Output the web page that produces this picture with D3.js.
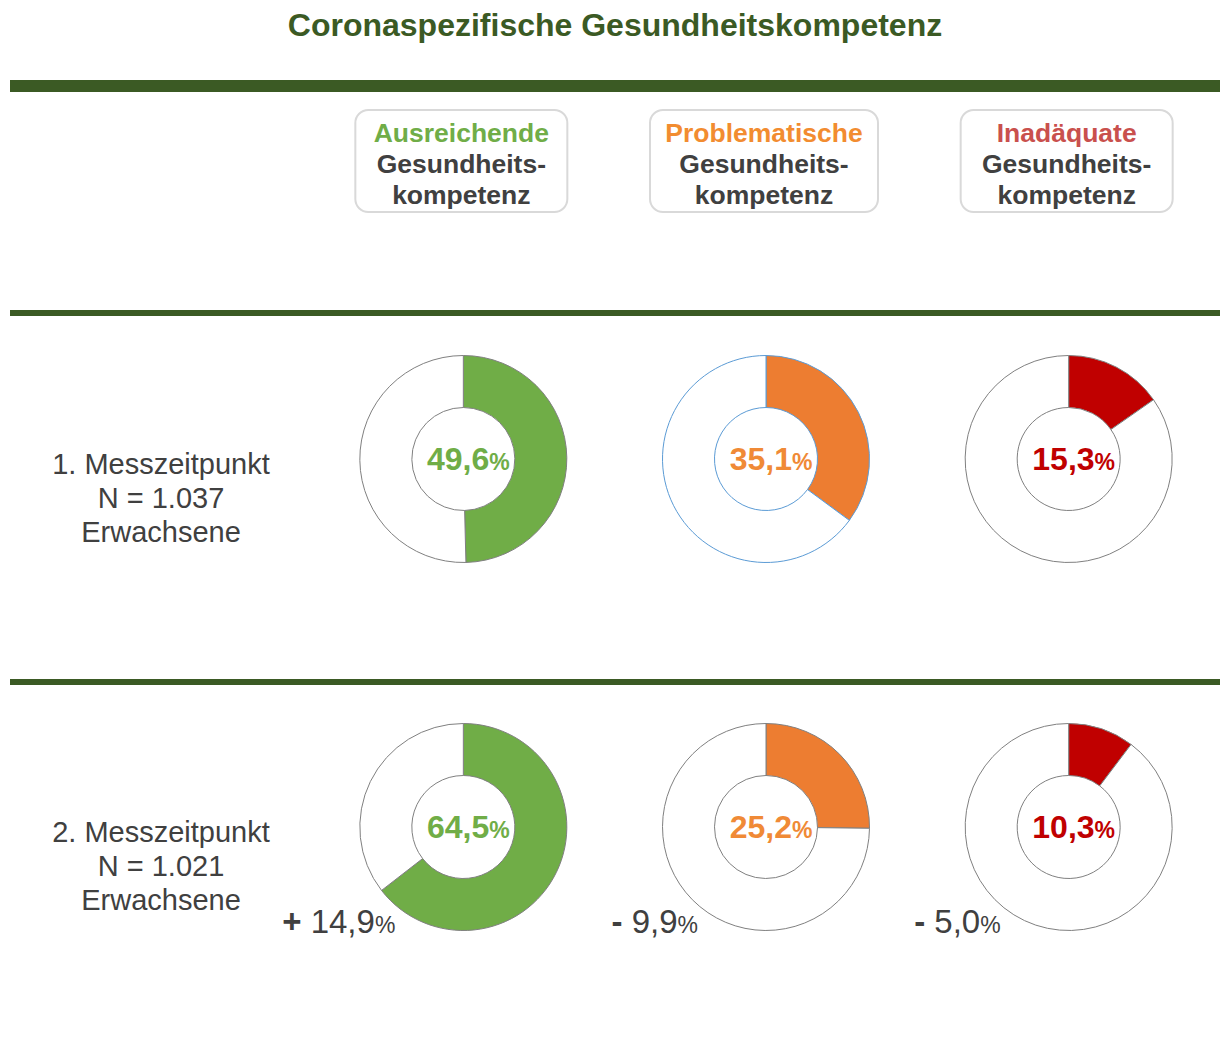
<!DOCTYPE html>
<html>
<head>
<meta charset="utf-8">
<script src="https://cdn.jsdelivr.net/npm/d3@7"></script>
<style>
  body { margin: 0; background: #fff; }
  svg { font-family: "Liberation Sans", Arial, sans-serif; }
</style>
</head>
<body>
<div id="chart"></div>
<script>
// data
var categories = ["Ausreichende", "Problematische", "Inadäquate"];
var timepoints = ["1. Messzeitpunkt", "2. Messzeitpunkt"];
var sampleSizes = ["1.037", "1.021"];
var wave1 = [49.6, 35.1, 15.3];
var wave2 = [64.5, 25.2, 10.3];

var width = 1221, height = 1042;
var darkGreen = "#3b5a24";
var fills = ["#70ad47", "#ed7d31", "#c00000"];
var valueColors = ["#70ad47", "#f08a36", "#c00000"];
var headColors = ["#70ad47", "#f28c30", "#c9504d"];
var textDark = "#404040";

var fmt = function (v) { return d3.format(".1f")(Math.abs(v)).replace(".", ","); };

var svg = d3.select("#chart").append("svg")
  .attr("width", width)
  .attr("height", height);

svg.append("text")
  .attr("x", 615).attr("y", 36)
  .attr("text-anchor", "middle")
  .style("font-size", "32px").style("font-weight", "bold")
  .attr("fill", darkGreen)
  .text("Coronaspezifische Gesundheitskompetenz");

// horizontal bands
[[80, 12], [310, 6], [679, 6]].forEach(function (b) {
  svg.append("rect").attr("x", 10).attr("y", b[0])
    .attr("width", 1210).attr("height", b[1]).attr("fill", darkGreen);
});

var x = d3.scaleBand().domain(categories).range([312, 1220]);
var boxW = [212, 228, 212];

// header boxes
categories.forEach(function (c, i) {
  var cx = x(c) + x.bandwidth() / 2 - 2;
  var g = svg.append("g").attr("transform", "translate(" + cx + ",0)");
  g.append("rect")
    .attr("x", -boxW[i] / 2).attr("y", 110)
    .attr("width", boxW[i]).attr("height", 102)
    .attr("rx", 13)
    .attr("fill", "#fff").attr("stroke", "#d9d9d9").attr("stroke-width", 2);
  var lines = [c, "Gesundheits-", "kompetenz"];
  g.selectAll("text.head").data(lines).enter().append("text")
    .attr("class", "head")
    .attr("x", 0)
    .attr("y", function (d, j) { return 142 + j * 31; })
    .attr("text-anchor", "middle")
    .style("font-size", "26.5px").style("font-weight", "bold")
    .attr("fill", function (d, j) { return j === 0 ? headColors[i] : textDark; })
    .text(function (d) { return d; });
});

var pie = d3.pie().sort(null).value(function (d) { return d; });
var arc = d3.arc().innerRadius(51.5).outerRadius(103.5);
var rowY = [459, 827];
var rows = [wave1, wave2];

rows.forEach(function (vals, r) {
  var cy = rowY[r];

  // left label
  var lab = [timepoints[r], "N = " + sampleSizes[r], "Erwachsene"];
  svg.selectAll(null).data(lab).enter().append("text")
    .attr("x", 161)
    .attr("y", function (d, j) { return cy + 15 + j * 34; })
    .attr("text-anchor", "middle")
    .style("font-size", "29px")
    .attr("fill", textDark)
    .text(function (d) { return d; });

  vals.forEach(function (v, i) {
    var cx = x(categories[i]) + x.bandwidth() / 2;
    var stroke = (r === 0 && i === 1) ? "#5b9bd5" : "#808080";
    var g = svg.append("g").attr("transform", "translate(" + cx + "," + cy + ")");
    g.selectAll("path").data(pie([v, 100 - v])).enter().append("path")
      .attr("d", arc)
      .attr("fill", function (d, k) { return k === 0 ? fills[i] : "#fff"; })
      .attr("stroke", stroke).attr("stroke-width", 1);

    var t = g.append("text")
      .attr("x", 5).attr("y", 11)
      .attr("text-anchor", "middle")
      .attr("fill", valueColors[i])
      .style("font-weight", "bold");
    t.append("tspan").style("font-size", "32px").text(fmt(v));
    t.append("tspan").style("font-size", "23px").text("%");

    if (r === 1) {
      var diff = v - wave1[i];
      var ct = svg.append("text")
        .attr("x", cx - 68).attr("y", cy + 106)
        .attr("text-anchor", "end")
        .attr("fill", textDark);
      ct.append("tspan").style("font-size", "33px").style("font-weight", "bold")
        .text(diff >= 0 ? "+" : "-");
      ct.append("tspan").style("font-size", "33px").text("\u00a0" + fmt(diff));
      ct.append("tspan").style("font-size", "23px").text("%");
    }
  });
});
</script>
</body>
</html>
